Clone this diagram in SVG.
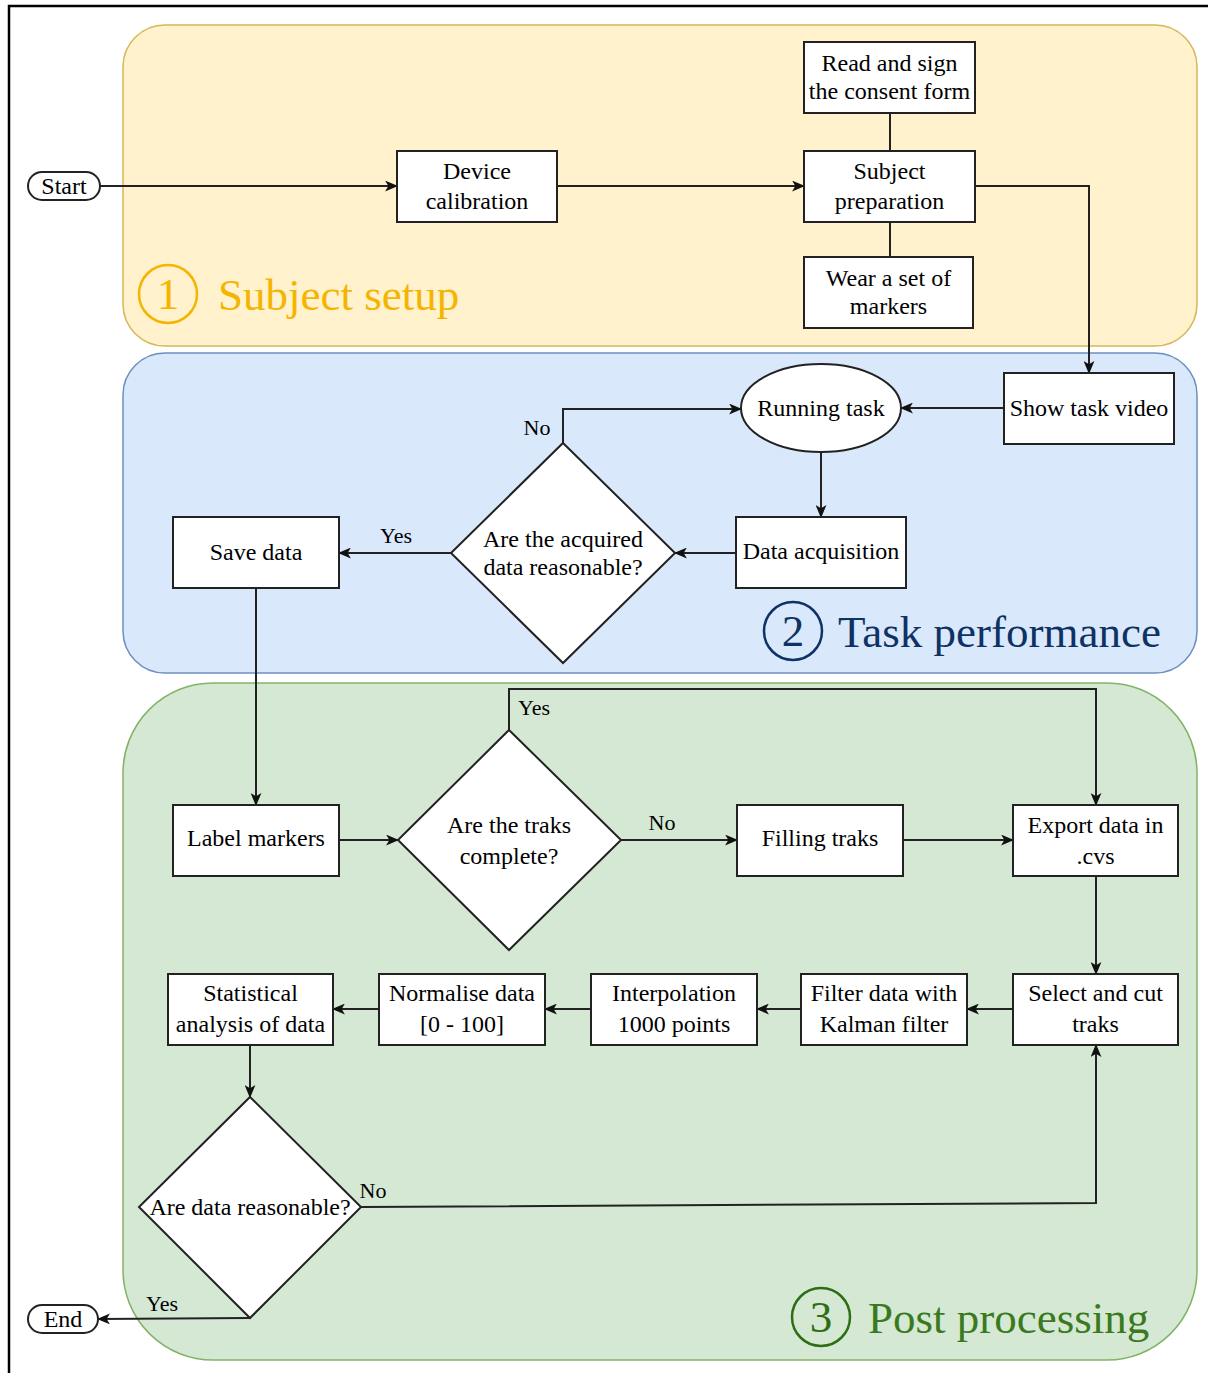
<svg xmlns="http://www.w3.org/2000/svg" width="1208" height="1373" viewBox="0 0 1208 1373" font-family="'Liberation Serif', 'DejaVu Serif', serif">
<defs>
<marker id="arr" viewBox="0 0 12 10" refX="11" refY="5" markerWidth="13" markerHeight="11" markerUnits="userSpaceOnUse" orient="auto">
<path d="M0,0 L12,5 L0,10 L3,5 Z" fill="#111"/>
</marker>
<style>
.box{fill:#fff;stroke:#222;stroke-width:2}
.t{font-family:'Liberation Serif','DejaVu Serif',serif;font-size:24px;fill:#000;text-anchor:middle}
.lbl{font-family:'Liberation Serif','DejaVu Serif',serif;font-size:22px;fill:#000;text-anchor:middle}
.c{fill:none;stroke:#222;stroke-width:2}
.ca{fill:none;stroke:#222;stroke-width:2;marker-end:url(#arr)}
.big{font-family:'Liberation Serif','DejaVu Serif',serif;font-size:45px}
</style>
</defs>
<rect width="1208" height="1373" fill="#fff"/>
<path d="M9,1373 L9,6 L1208,6" fill="none" stroke="#000" stroke-width="2.5"/>

<g id="container-subject-setup">
<rect x="123" y="25" width="1074" height="321" rx="42" ry="42" fill="#fff2cc" stroke="#d6b656" stroke-width="1.5"/>
<circle cx="168" cy="294" r="29" fill="none" stroke="#f5b400" stroke-width="2.5"/>
<text x="168" y="309" class="big" fill="#f5b400" text-anchor="middle" font-size="42">1</text>
<text x="218" y="310" class="big" fill="#f5b400">Subject setup</text>
</g>
<g id="container-task-performance">
<rect x="123" y="353" width="1074" height="320" rx="42" ry="42" fill="#dae8fc" stroke="#6c8ebf" stroke-width="1.5"/>
<circle cx="793" cy="631" r="29" fill="none" stroke="#0d3263" stroke-width="2.5"/>
<text x="793" y="646" class="big" fill="#0d3263" text-anchor="middle" font-size="42">2</text>
<text x="838" y="647" class="big" fill="#0d3263">Task performance</text>
</g>
<g id="container-post-processing">
<rect x="123" y="683" width="1074" height="677" rx="90" ry="90" fill="#d5e8d4" stroke="#82b366" stroke-width="1.5"/>
<circle cx="821" cy="1317" r="29" fill="none" stroke="#2d6e14" stroke-width="2.5"/>
<text x="821" y="1332" class="big" fill="#2d6e14" text-anchor="middle" font-size="42">3</text>
<text x="868" y="1333" class="big" fill="#3a7a1e">Post processing</text>
</g>

<g id="connectors">
<line class="ca" x1="100" y1="186" x2="397" y2="186"/>
<line class="ca" x1="557" y1="186" x2="804" y2="186"/>
<line class="c" x1="890" y1="113" x2="890" y2="151"/>
<line class="c" x1="890" y1="222" x2="890" y2="257"/>
<polyline class="ca" points="975,186 1089,186 1089,373"/>
<line class="ca" x1="1004" y1="408" x2="901" y2="408"/>
<line class="ca" x1="821" y1="452" x2="821" y2="517"/>
<line class="ca" x1="736" y1="553" x2="675" y2="553"/>
<polyline class="ca" points="563,443 563,409 741,409"/>
<line class="ca" x1="451" y1="553" x2="339" y2="553"/>
<line class="ca" x1="256" y1="588" x2="256" y2="805"/>
<line class="ca" x1="339" y1="840" x2="398" y2="840"/>
<polyline class="ca" points="509,730 509,689 1096,689 1096,805"/>
<line class="ca" x1="621" y1="840" x2="737" y2="840"/>
<line class="ca" x1="903" y1="840" x2="1013" y2="840"/>
<line class="ca" x1="1096" y1="876" x2="1096" y2="974"/>
<line class="ca" x1="1013" y1="1009" x2="967" y2="1009"/>
<line class="ca" x1="801" y1="1009" x2="757" y2="1009"/>
<line class="ca" x1="591" y1="1009" x2="545" y2="1009"/>
<line class="ca" x1="379" y1="1009" x2="333" y2="1009"/>
<line class="ca" x1="250" y1="1045" x2="250" y2="1097"/>
<polyline class="ca" points="361,1207 1096,1203 1096,1045"/>
<line class="ca" x1="250" y1="1318" x2="98" y2="1319"/>
<text class="lbl" x="537" y="435">No</text>
<text class="lbl" x="396" y="543">Yes</text>
<text class="lbl" x="534" y="715">Yes</text>
<text class="lbl" x="662" y="830">No</text>
<text class="lbl" x="373" y="1198">No</text>
<text class="lbl" x="162" y="1311">Yes</text>
</g>

<g id="start">
<rect x="28" y="172" width="72" height="28" rx="14" ry="14" class="box"/>
<text class="t" x="64" y="194" font-size="22">Start</text>
</g>
<g id="device-calibration">
<rect x="397" y="151" width="160" height="71" class="box"/>
<text class="t" x="477" y="179">Device</text>
<text class="t" x="477" y="209">calibration</text>
</g>
<g id="consent-form">
<rect x="804" y="42" width="171" height="71" class="box"/>
<text class="t" x="889.5" y="71">Read and sign</text>
<text class="t" x="889.5" y="99">the consent form</text>
</g>
<g id="subject-preparation">
<rect x="804" y="151" width="171" height="71" class="box"/>
<text class="t" x="889.5" y="179">Subject</text>
<text class="t" x="889.5" y="209">preparation</text>
</g>
<g id="wear-markers">
<rect x="804" y="257" width="169" height="71" class="box"/>
<text class="t" x="888.5" y="286">Wear a set of</text>
<text class="t" x="888.5" y="314">markers</text>
</g>
<g id="show-task-video">
<rect x="1004" y="373" width="170" height="71" class="box"/>
<text class="t" x="1089" y="416">Show task video</text>
</g>
<g id="running-task">
<ellipse cx="821" cy="408" rx="80" ry="44" class="box"/>
<text class="t" x="821" y="416">Running task</text>
</g>
<g id="data-acquisition">
<rect x="736" y="517" width="170" height="71" class="box"/>
<text class="t" x="821" y="559">Data acquisition</text>
</g>
<g id="decision-acquired">
<polygon points="563,443 675,553 563,663 451,553" class="box"/>
<text class="t" x="563" y="547">Are the acquired</text>
<text class="t" x="563" y="575">data reasonable?</text>
</g>
<g id="save-data">
<rect x="173" y="517" width="166" height="71" class="box"/>
<text class="t" x="256" y="560">Save data</text>
</g>
<g id="label-markers">
<rect x="173" y="805" width="166" height="71" class="box"/>
<text class="t" x="256" y="846">Label markers</text>
</g>
<g id="decision-traks">
<polygon points="509,730 621,840 509,950 398,840" class="box"/>
<text class="t" x="509" y="833">Are the traks</text>
<text class="t" x="509" y="864">complete?</text>
</g>
<g id="filling-traks">
<rect x="737" y="805" width="166" height="71" class="box"/>
<text class="t" x="820" y="846">Filling traks</text>
</g>
<g id="export-data">
<rect x="1013" y="805" width="165" height="71" class="box"/>
<text class="t" x="1095.5" y="833">Export data in</text>
<text class="t" x="1095.5" y="864">.cvs</text>
</g>
<g id="select-cut">
<rect x="1013" y="974" width="165" height="71" class="box"/>
<text class="t" x="1095.5" y="1001">Select and cut</text>
<text class="t" x="1095.5" y="1032">traks</text>
</g>
<g id="filter-kalman">
<rect x="801" y="974" width="166" height="71" class="box"/>
<text class="t" x="884" y="1001">Filter data with</text>
<text class="t" x="884" y="1032">Kalman filter</text>
</g>
<g id="interpolation">
<rect x="591" y="974" width="166" height="71" class="box"/>
<text class="t" x="674" y="1001">Interpolation</text>
<text class="t" x="674" y="1032">1000 points</text>
</g>
<g id="normalise">
<rect x="379" y="974" width="166" height="71" class="box"/>
<text class="t" x="462" y="1001">Normalise data</text>
<text class="t" x="462" y="1032">[0 - 100]</text>
</g>
<g id="statistical">
<rect x="168" y="974" width="165" height="71" class="box"/>
<text class="t" x="250.5" y="1001">Statistical</text>
<text class="t" x="250.5" y="1032">analysis of data</text>
</g>
<g id="decision-reasonable">
<polygon points="250,1097 361,1207 250,1318 139,1207" class="box"/>
<text class="t" x="250" y="1215">Are data reasonable?</text>
</g>
<g id="end">
<rect x="28" y="1305" width="70" height="28" rx="14" ry="14" class="box"/>
<text class="t" x="63" y="1327" font-size="22">End</text>
</g>
</svg>
